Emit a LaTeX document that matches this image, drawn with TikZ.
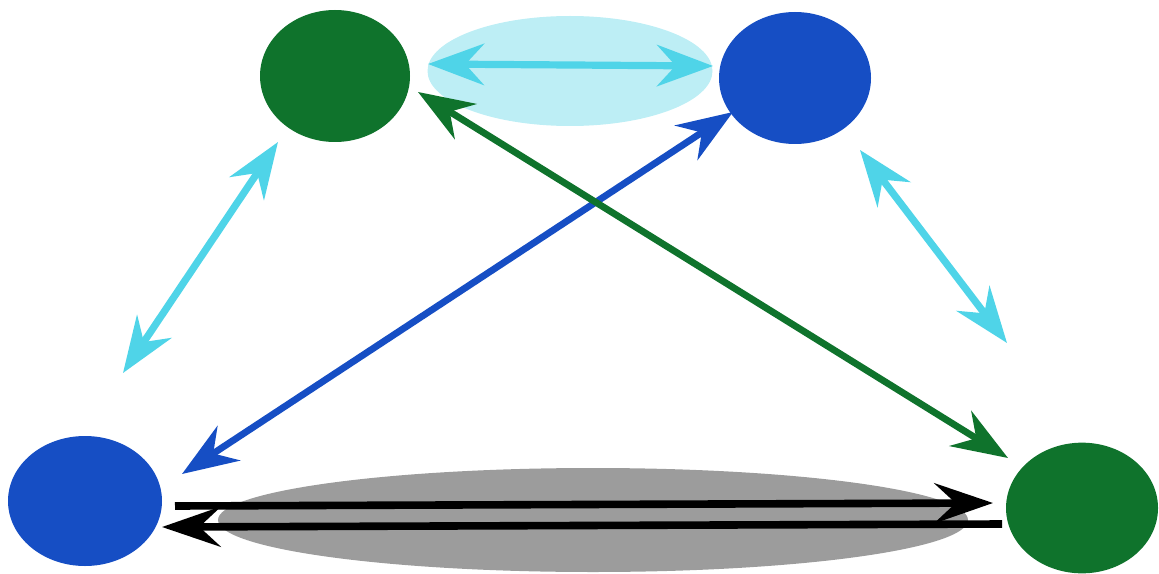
\documentclass[tikz,border=0pt]{standalone}
\usetikzlibrary{shapes.geometric,arrows.meta}
\definecolor{dgreen}{HTML}{0F732C}
\definecolor{dblue}{HTML}{164EC4}
\definecolor{lcyan}{HTML}{4FD4E8}
\definecolor{pcyan}{HTML}{BDEEF5}
\definecolor{mgray}{HTML}{9C9C9C}
\begin{document}
\begin{tikzpicture}[x=0.75pt,y=-0.75pt,
  blob/.style={ellipse,inner sep=0pt,draw=none},
  ctip/.tip={Stealth[length=42pt,width=31pt,inset=14pt]},
  btip/.tip={Stealth[length=44pt,width=30pt,inset=16pt]},
  carrow/.style={line width=5.4pt,draw=lcyan,fill=lcyan,ctip-ctip},
  barrow/.style={line width=5.1pt,ctip-ctip},
  karrow/.style={line width=5.7pt,draw=black,fill=black}]
\useasboundingbox (0,0) rectangle (1159,574);
% halos
\node[blob,fill=pcyan,minimum width=213.75pt,minimum height=82.5pt] (halo) at (570,71) {};
\node[blob,fill=mgray,minimum width=562.5pt,minimum height=78pt] (shade) at (593,520) {};
% actors
\node[blob,fill=dgreen,minimum width=112.5pt,minimum height=99pt] (tl) at (335,76) {};
\node[blob,fill=dblue,minimum width=114pt,minimum height=99pt] (tr) at (795,78) {};
\node[blob,fill=dblue,minimum width=115.5pt,minimum height=97.5pt] (bl) at (85,501) {};
\node[blob,fill=dgreen,minimum width=114pt,minimum height=98pt] (br) at (1082,508) {};
% connector end points
\coordinate (a1) at (428,64);
\coordinate (a2) at (713,66);
\coordinate (b1) at (278,142);
\coordinate (b2) at (123,373);
\coordinate (c1) at (860,150);
\coordinate (c2) at (1007,343);
\coordinate (d1) at (733,112);
\coordinate (d2) at (182,474);
\coordinate (e1) at (418,92);
\coordinate (e2) at (1008,458);
\coordinate (f1) at (175,506);
\coordinate (f2) at (993,503);
\coordinate (g1) at (1002,524);
\coordinate (g2) at (162,527);
% connectors
\draw[carrow] (a1) -- (a2);
\draw[carrow] (b1) -- (b2);
\draw[carrow] (c1) -- (c2);
\draw[barrow,draw=dblue,fill=dblue] (d1) -- (d2);
\draw[barrow,draw=dgreen,fill=dgreen] (e1) -- (e2);
\draw[karrow,-btip] (f1) -- (f2);
\draw[karrow,-btip] (g1) -- (g2);
\end{tikzpicture}
\end{document}
